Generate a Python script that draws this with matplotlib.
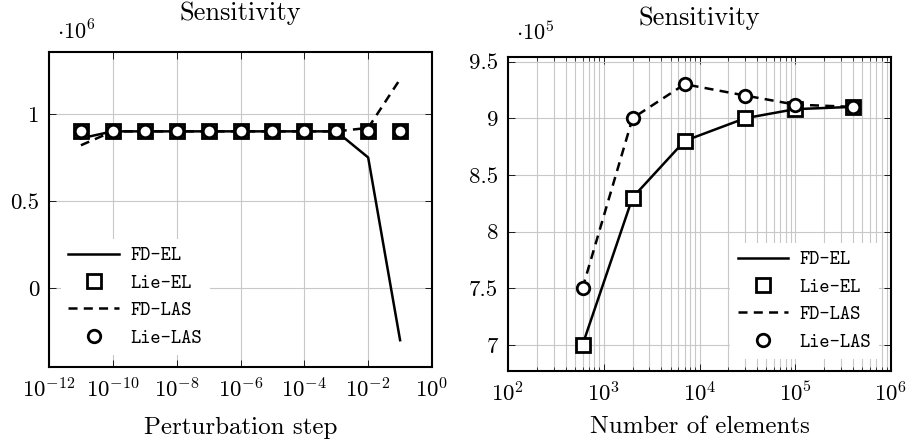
import numpy as np
import matplotlib
matplotlib.use('Agg')
import matplotlib.pyplot as plt
from matplotlib.ticker import FuncFormatter, LogLocator, NullLocator, NullFormatter

plt.rcParams['font.family'] = 'serif'
plt.rcParams['font.serif'] = ['cmr10']
plt.rcParams['mathtext.fontset'] = 'cm'
plt.rcParams['axes.unicode_minus'] = False
plt.rcParams['lines.scale_dashes'] = False

# Données : pas de perturbation
steps = [1e-11, 1e-10, 1e-9, 1e-8, 1e-7, 1e-6, 1e-5, 1e-4, 1e-3, 1e-2, 1e-1]
fd_el_step = [0.86e6, 0.9e6, 0.9e6, 0.9e6, 0.9e6, 0.9e6, 0.9e6, 0.9e6, 0.9e6, 0.75e6, -0.3e6]
lie_el_step = [0.9e6] * 11
fd_las_step = [0.82e6, 0.9e6, 0.9e6, 0.9e6, 0.9e6, 0.9e6, 0.9e6, 0.9e6, 0.9e6, 0.92e6, 1.2e6]
lie_las_step = [0.9e6] * 11

# Données : nombre d'éléments
n_elem = [600, 2000, 7000, 30000, 100000, 400000]
fd_el_mesh = [7.0e5, 8.3e5, 8.8e5, 9.0e5, 9.08e5, 9.1e5]
lie_el_mesh = [7.0e5, 8.3e5, 8.8e5, 9.0e5, 9.08e5, 9.1e5]
fd_las_mesh = [7.5e5, 9.0e5, 9.3e5, 9.2e5, 9.12e5, 9.1e5]
lie_las_mesh = [7.5e5, 9.0e5, 9.3e5, 9.2e5, 9.12e5, 9.1e5]

labels = ['FD-EL', 'Lie-EL', 'FD-LAS', 'Lie-LAS']

W, H = 909, 447
fig = plt.figure(figsize=(W / 100, H / 100), dpi=100)
ax1 = fig.add_axes([49 / W, 1 - 367 / H, 383 / W, 315 / H])
ax2 = fig.add_axes([508 / W, 1 - 371 / H, 383 / W, 314 / H])

lw = 1.8
ms = 10
mew = 2.0


def draw(ax, x, a, b, c, d):
    ax.plot(x, a, '-', color='black', lw=lw, label=labels[0], zorder=3)
    ax.plot(x, b, 's', color='black', mfc='white', ms=ms, mew=mew, label=labels[1], zorder=4)
    ax.plot(x, c, color='black', lw=lw, dashes=(6.5, 4.5), label=labels[2], zorder=5)
    ax.plot(x, d, 'o', color='black', mfc='white', ms=ms - 1, mew=mew, label=labels[3], zorder=6)


def style(ax):
    for s in ax.spines.values():
        s.set_linewidth(1.5)
    ax.tick_params(which='both', direction='in', top=True, right=True, labelsize=16.5, pad=7)
    ax.tick_params(which='major', length=5, width=0.6)
    ax.tick_params(which='minor', length=3, width=0.5)
    ax.set_title('Sensitivity', fontsize=19, pad=23)
    leg = ax.legend(prop={'family': 'cmtt10', 'size': 14}, frameon=True, fancybox=False,
                    edgecolor='white', framealpha=1, handlelength=2.6, handletextpad=0.6,
                    labelspacing=0.45, borderpad=0.4, borderaxespad=0.6)
    leg.get_frame().set_linewidth(0)
    leg.set_zorder(10)


# Graphique de gauche
draw(ax1, steps, fd_el_step, lie_el_step, fd_las_step, lie_las_step)
ax1.set_xscale('log')
ax1.set_xlim(1e-12, 1e0)
ax1.set_ylim(-0.454e6, 1.356e6)
ax1.set_xticks([10.0 ** k for k in range(-12, 1, 2)])
ax1.xaxis.set_minor_locator(NullLocator())
ax1.set_yticks([0, 0.5e6, 1e6])
ax1.yaxis.set_major_formatter(FuncFormatter(lambda v, p: '%g' % (v / 1e6)))
ax1.grid(True, which='major', color='#c8c8c8', lw=0.8)
ax1.set_xlabel('Perturbation step', fontsize=18, labelpad=11)
ax1.text(0.02, 1.028, r'$\cdot 10^6$', transform=ax1.transAxes, fontsize=16, va='bottom')
style(ax1)
ax1.get_legend().set_loc('lower left')

# Graphique de droite
draw(ax2, n_elem, fd_el_mesh, lie_el_mesh, fd_las_mesh, lie_las_mesh)
ax2.set_xscale('log')
ax2.set_xlim(1e2, 1e6)
ax2.set_ylim(6.77e5, 9.54e5)
ax2.xaxis.set_major_locator(LogLocator(base=10, numticks=10))
ax2.xaxis.set_minor_locator(LogLocator(base=10, subs=np.arange(2, 10), numticks=100))
ax2.xaxis.set_minor_formatter(NullFormatter())
ax2.set_yticks([7e5, 7.5e5, 8e5, 8.5e5, 9e5, 9.5e5])
ax2.yaxis.set_major_formatter(FuncFormatter(lambda v, p: '%g' % (v / 1e5)))
ax2.grid(True, which='major', color='#c8c8c8', lw=0.8)
ax2.grid(True, which='minor', axis='x', color='#c8c8c8', lw=0.8)
ax2.set_xlabel('Number of elements', fontsize=18, labelpad=8)
ax2.text(0.02, 1.04, r'$\cdot 10^5$', transform=ax2.transAxes, fontsize=16, va='bottom')
style(ax2)
ax2.get_legend().set_loc('lower right')

fig.savefig('out.png', dpi=100)
